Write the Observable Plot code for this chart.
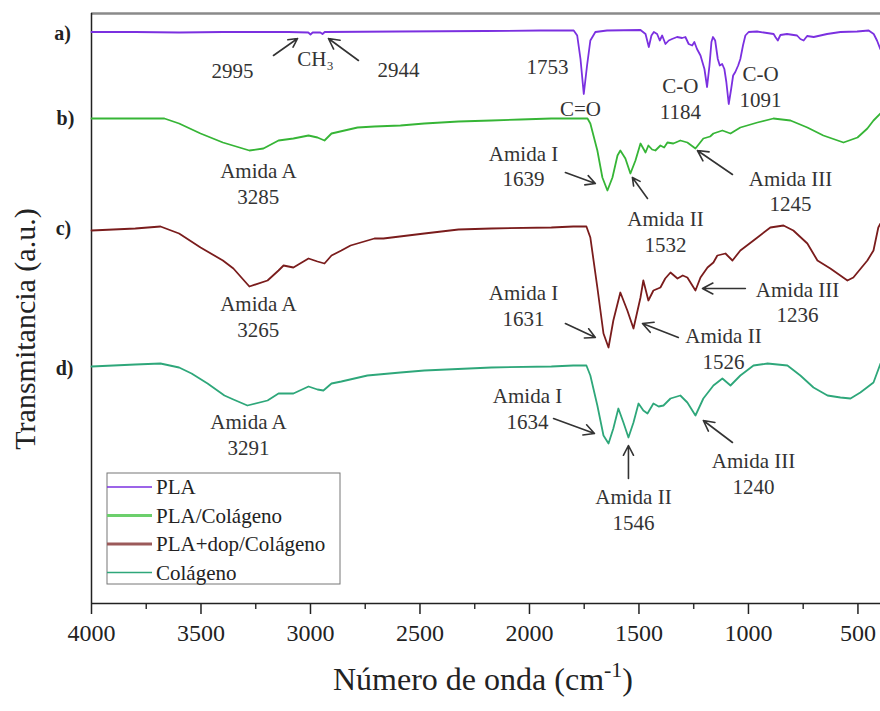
<!DOCTYPE html>
<html><head><meta charset="utf-8">
<script src="https://cdn.jsdelivr.net/npm/d3@7"></script>
<script src="https://cdn.jsdelivr.net/npm/@observablehq/plot@0.6"></script>
<style>
html,body{margin:0;padding:0;background:#fff;}
#chart{width:880px;height:711px;}
</style></head><body><div id="chart"></div>
<script>
// Series names and colours
const seriesNames = ["PLA", "PLA/Colágeno", "PLA+dop/Colágeno", "Colágeno"];
const seriesColors = ["#7b30e0", "#36b536", "#7a1c1c", "#2ea77a"];

// Spectra: [wavenumber (cm-1), transmittance (a.u., stacked)]
const pla = [[4000,114.3],[3800,114.3],[3600,114.2],[3400,114.3],[3100,114.3],[3010,114.2],[3000,113.8],[2990,114.2],[2955,114.2],[2945,113.9],[2935,114.3],[2600,114.4],[2200,114.5],[1950,114.6],[1798,114.6],[1782,113.6],[1767,108.9],[1752,101.9],[1737,107.6],[1722,112.6],[1699,114.3],[1646,114.6],[1493,114.7],[1470,113.9],[1455,111.3],[1443,113.6],[1432,114.3],[1417,113.9],[1405,112.6],[1394,113.6],[1379,111.9],[1364,112.6],[1349,112.9],[1326,113.3],[1303,113.1],[1288,113.3],[1273,111.9],[1257,111.6],[1247,112.3],[1235,110.9],[1219,109.6],[1201,106.9],[1189,103.3],[1178,107.6],[1169,112.3],[1162,113.3],[1152,112.6],[1140,108.9],[1131,107.6],[1120,107.9],[1110,106.9],[1101,104.3],[1090,99.9],[1079,102.9],[1070,105.6],[1060,106.3],[1047,107.6],[1037,108.9],[1025,111.6],[1014,113.6],[999,114.3],[961,114.4],[885,113.9],[877,113.3],[866,112.6],[854,113.7],[824,113.9],[778,113.6],[763,112.9],[748,112.6],[732,113.5],[702,113.3],[641,113.9],[580,114.3],[504,114.4],[451,114.6],[428,113.9],[413,112.6],[398,110.9]];
const plaCol = [[4000,97],[3800,97],[3667,97],[3600,96],[3502,94],[3400,92.2],[3279,90.6],[3215,91],[3146,92.6],[3078,93],[3009,93.6],[2968,93.2],[2936,92.6],[2904,94],[2785,95.2],[2708,95.4],[2589,95.6],[2480,96],[2324,96.4],[2174,96.6],[2041,96.8],[1900,97],[1800,97],[1735,97],[1722,96],[1690,90.6],[1667,85.2],[1644,82.6],[1621,85.2],[1598,89.6],[1585,90.6],[1562,89],[1539,86],[1516,88.6],[1493,92],[1470,90.2],[1457,91.6],[1440,90.8],[1425,90.6],[1402,91.6],[1385,91.2],[1370,92.2],[1343,92],[1311,92.6],[1279,92.2],[1242,91],[1206,93],[1175,93.4],[1160,94],[1119,94.6],[1082,94],[1037,95.2],[959,96.2],[886,97],[808,96.6],[731,95.2],[658,93.6],[566,92.2],[502,93.2],[457,95],[429,96.6],[397,98]];
const plaDopCol = [[4000,74.6],[3800,75],[3685,75.4],[3600,74],[3502,71.2],[3400,68.6],[3352,67],[3279,63.4],[3196,64.6],[3146,66.6],[3123,67.6],[3078,67.2],[3009,69],[2968,68.4],[2936,68],[2904,69.6],[2859,70.6],[2817,71.6],[2708,73],[2667,73],[2480,74],[2324,74.8],[2174,75],[1900,75.2],[1800,75.4],[1740,75.4],[1722,73.2],[1690,63.2],[1662,54],[1639,51.2],[1617,56.6],[1585,62.2],[1553,58.6],[1525,55],[1493,61.2],[1480,64.6],[1457,60.6],[1434,62.6],[1402,63.2],[1380,65],[1356,66.2],[1324,65],[1300,65.6],[1279,65.2],[1242,62.6],[1219,65.2],[1187,67.2],[1160,68.2],[1142,69.6],[1105,70],[1073,68.6],[1037,70.6],[959,73.2],[900,75.2],[840,75.6],[795,74.6],[731,72],[685,68.6],[626,67],[548,64.6],[521,65.2],[457,68.6],[429,70.6],[407,75.2],[397,76]];
const col = [[4000,47.4],[3800,47.8],[3685,48],[3600,47.2],[3543,46],[3470,44],[3393,41.6],[3352,40.8],[3288,39.6],[3196,40.6],[3146,42],[3078,42],[3009,43.4],[2968,42.8],[2941,42.6],[2904,44],[2859,44.4],[2740,45.6],[2589,46.2],[2480,46.6],[2174,47.2],[1900,47.4],[1800,47.6],[1740,47.6],[1722,45.6],[1690,39.6],[1662,33.6],[1639,32],[1617,35],[1594,39],[1571,36.2],[1548,33.2],[1525,36.2],[1502,40],[1480,38.6],[1461,38],[1434,40],[1410,39.4],[1388,39.6],[1356,41],[1311,41.6],[1279,40.2],[1242,37.6],[1206,41],[1160,43.6],[1119,45],[1082,43.6],[1037,45.6],[977,47.6],[913,48],[822,47.6],[763,45.6],[703,43.2],[639,41.6],[580,41.2],[534,41],[489,42.2],[429,44.2],[397,48]];

// Tick values
const xTicks = [4000, 3500, 3000, 2500, 2000, 1500, 1000, 500];
const xMinorTicks = [3750, 3250, 2750, 2250, 1750, 1250, 750];

// Panel letters [text, wavenumber, a.u.]
const panelLabels = [["a)", 4132, 114], ["b)", 4119, 97], ["c)", 4128, 75], ["d)", 4123, 47]];

// Band annotations [text, wavenumber, a.u.]
const bandLabels = [
  ["2995", 3356, 106.8], ["CH₃", 2977, 109.2], ["2944", 2598, 107],
  ["1753", 1918, 107.6], ["C=O", 1767, 99.2], ["C-O\n1184", 1311, 101.1], ["C-O\n1091", 945, 103.5],
  ["Amida A\n3285", 3238, 84.1], ["Amida I\n1639", 2027, 87.6], ["Amida II\n1532", 1379, 74.5], ["Amida III\n1245", 808, 82.6],
  ["Amida A\n3265", 3238, 57.5], ["Amida I\n1631", 2027, 59.7], ["Amida II\n1526", 1114, 51.1], ["Amida III\n1236", 776, 60.4],
  ["Amida A\n3291", 3283, 33.9], ["Amida I\n1634", 2009, 39.1], ["Amida II\n1546", 1525, 18.9], ["Amida III\n1240", 977, 26.1]
];

// Arrows [wn1, t1, wn2, t2]
const bandArrows = [
  [3169, 109.6, 3059, 113], [2781, 108.6, 2918, 113],
  [1836, 86.2, 1699, 84], [1461, 81, 1530, 85.2], [1073, 85.8, 1233, 90.6],
  [1836, 56, 1699, 53.2], [1320, 53.2, 1484, 56], [1014, 63, 1210, 63],
  [1890, 37, 1703, 34], [1548, 25, 1548, 31.6], [1073, 32.2, 1206, 36.6]
];

const spectra = [pla, plaCol, plaDopCol, col];
const rows = spectra.flatMap((s, i) => s.map(([wn, t]) => ({series: seriesNames[i], wn, t})));
const panels = panelLabels.map(([text, wn, t]) => ({text, wn, t}));
const bands = bandLabels.map(([text, wn, t]) => ({text, wn, t}));
const arrows = bandArrows.map(([x1, y1, x2, y2]) => ({x1, y1, x2, y2}));

const serif = "'Liberation Serif', 'Times New Roman', serif";

const chart = Plot.plot({
  width: 880, height: 711,
  marginLeft: 91, marginRight: 0, marginTop: 13, marginBottom: 108,
  style: {fontFamily: serif, background: "#fff", color: "#222", overflow: "visible"},
  x: {domain: [4000, 397]},
  y: {domain: [0, 118], axis: null},
  color: {domain: seriesNames, range: seriesColors},
  marks: [
    Plot.ruleY([118], {stroke: "#8a8a8a", strokeWidth: 2.5}),
    Plot.axisX(xMinorTicks, {tickSize: 6, tickFormat: () => "", label: null, stroke: "#333", strokeWidth: 1.5}),
    Plot.axisX(xTicks, {tickSize: 11, tickPadding: 9, fontSize: 24, label: null, tickFormat: d => String(d), stroke: "#222", strokeWidth: 1.5, fill: "#222"}),
    Plot.ruleX([4000], {stroke: "#222", strokeWidth: 1.5}),
    Plot.ruleY([0], {stroke: "#222", strokeWidth: 1.5}),
    Plot.line(rows, {x: "wn", y: "t", z: "series", stroke: "series", strokeWidth: 1.8}),
    Plot.arrow(arrows, {x1: "x1", y1: "y1", x2: "x2", y2: "y2", stroke: "#333", strokeWidth: 1.6, headLength: 11, headAngle: 55}),
    Plot.text(bands, {x: "wn", y: "t", text: "text", fontSize: 21, lineHeight: 1.2, fill: "#333"}),
    Plot.text(panels, {x: "wn", y: "t", text: "text", fontSize: 20, fontWeight: "bold", fill: "#222"})
  ]
});
document.getElementById("chart").appendChild(chart);

const svg = d3.select(chart);
// x-axis title with superscript
const xt = svg.append("text").attr("x", 483).attr("y", 690).attr("text-anchor", "middle")
  .attr("font-family", serif).attr("font-size", 32).attr("fill", "#222");
xt.append("tspan").text("Número de onda (cm");
xt.append("tspan").attr("font-size", 22).attr("dy", -13).text("-1");
xt.append("tspan").attr("dy", 13).text(")");
// y-axis title
svg.append("text").attr("transform", "translate(35,329) rotate(-90)").attr("text-anchor", "middle")
  .attr("font-family", serif).attr("font-size", 30).attr("fill", "#222").text("Transmitancia (a.u.)");

// Legend
const legendWidths = [1.4, 3.2, 3.2, 1.4];
const legendColors = ["#7b30e0", "#6ccf6c", "#9b5a5a", "#2ea77a"];
const lg = svg.append("g").attr("text-anchor", "start");
lg.append("rect").attr("x", 107).attr("y", 473).attr("width", 233).attr("height", 111)
  .attr("fill", "#fff").attr("stroke", "#777").attr("stroke-width", 1);
seriesNames.forEach((name, i) => {
  const y = 487 + i * 28.5;
  lg.append("line").attr("x1", 107).attr("x2", 152).attr("y1", y).attr("y2", y)
    .attr("stroke", legendColors[i]).attr("stroke-width", legendWidths[i]);
  lg.append("text").attr("x", 156).attr("y", y + 7).attr("text-anchor", "start").attr("font-family", serif)
    .attr("font-size", 21).attr("fill", "#222").text(name);
});
</script></body></html>
